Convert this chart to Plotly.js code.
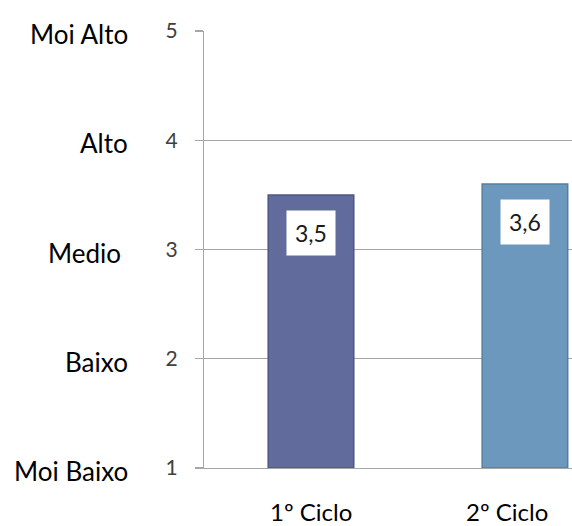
<!DOCTYPE html>
<html>
<head>
<meta charset="utf-8">
<script src="https://cdn.plot.ly/plotly-3.0.1.min.js"></script>
<style>html,body{margin:0;padding:0;background:#fff;}#chart{width:572px;height:526px;}</style>
</head>
<body>
<div id="chart"></div>
<script>
const categories = ['1º Ciclo', '2º Ciclo'];
const values = [3.5, 3.6];
const barColors = ['#616c9c', '#6b98bc'];
const barLineColors = ['#4d5782', '#557f9f'];
const levelValues = [1, 2, 3, 4, 5];
const levelLabels = ['Moi Baixo', 'Baixo', 'Medio\u00a0', 'Alto', 'Moi Alto'];

const FONT = 'Lato, "Open Sans", sans-serif';
const xIdx = categories.map((c, i) => i);

const trace = {
  type: 'bar',
  x: xIdx,
  y: values.map(v => v - 1),
  base: 1,
  width: 0.40,
  marker: { color: barColors, line: { color: barLineColors, width: 1.5 } },
  hoverinfo: 'skip'
};

const annotations = [];
values.forEach((v, i) => {
  annotations.push({
    x: i, y: v, xref: 'x', yref: 'y',
    text: v.toFixed(1).replace('.', ','),
    showarrow: false, yanchor: 'middle', xanchor: 'center', yshift: -38,
    bgcolor: '#ffffff', borderpad: 8,
    font: { family: FONT, size: 23, color: '#1a1a1a' }
  });
});
levelValues.forEach((v, i) => {
  annotations.push({
    x: 0, y: v, xref: 'paper', yref: 'y',
    text: levelLabels[i], showarrow: false,
    xanchor: 'right', yanchor: 'middle', xshift: -74, yshift: -3,
    font: { family: FONT, size: 26, color: '#000000' }
  });
});
categories.forEach((c, i) => {
  annotations.push({
    x: i, y: 0, xref: 'x', yref: 'paper',
    text: c, showarrow: false,
    xanchor: 'center', yanchor: 'middle', yshift: -43,
    xshift: i === categories.length - 1 ? -18 : 0,
    font: { family: FONT, size: 24, color: '#000000' }
  });
});

const layout = {
  width: 572, height: 526,
  margin: { l: 204, r: 0, t: 31, b: 58, pad: 0 },
  paper_bgcolor: '#ffffff', plot_bgcolor: '#ffffff',
  showlegend: false,
  xaxis: {
    range: [-0.5, 1.22], showticklabels: false, showgrid: false, zeroline: false,
    showline: true, linecolor: '#a6a6a6', linewidth: 1.2, ticks: '', fixedrange: true
  },
  yaxis: {
    range: [1, 5], tickvals: levelValues, ticktext: levelValues.map(String),
    showgrid: true, gridcolor: '#a6a6a6', gridwidth: 1, zeroline: false,
    showline: true, linecolor: '#a6a6a6', linewidth: 1.2,
    ticks: 'outside', ticklen: 8, tickcolor: '#a6a6a6', tickwidth: 1.2,
    ticklabelstandoff: 13,
    tickfont: { family: FONT, size: 21, color: '#404040' }, fixedrange: true
  },
  annotations: annotations
};

Plotly.newPlot('chart', [trace], layout, { staticPlot: true, displayModeBar: false });
</script>
</body>
</html>
